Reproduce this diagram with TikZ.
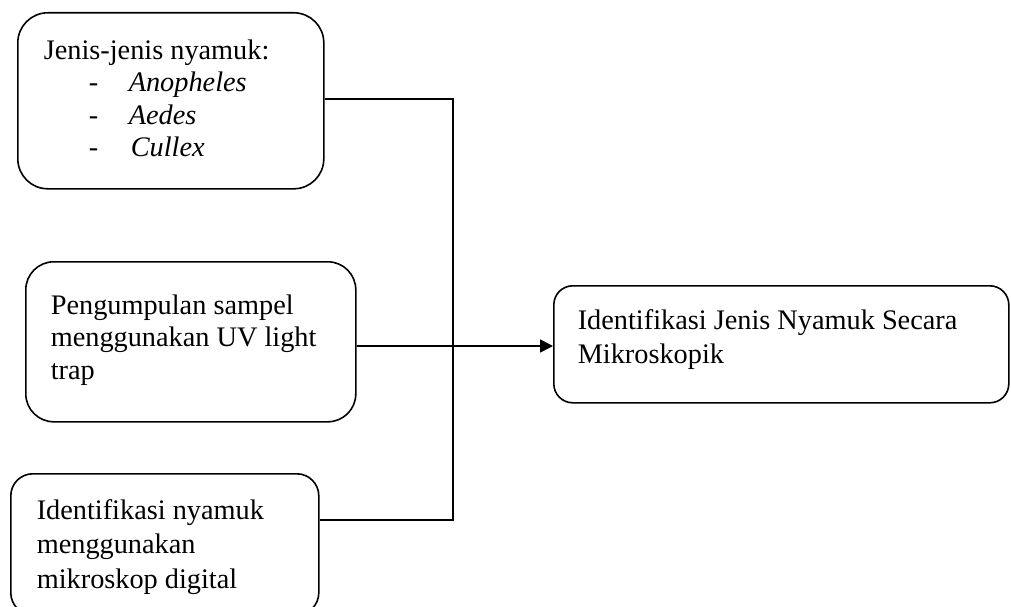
\documentclass[tikz,border=0pt]{standalone}
\usepackage{fontspec}
\setmainfont{Liberation Serif}
\usetikzlibrary{arrows.meta}
\tikzset{
  flowbox/.style={draw=black, line width=1.6pt, anchor=north west, align=left,
    font=\fontsize{28.3pt}{32.5pt}\selectfont},
  link/.style={draw=black, line width=1.6pt},
  arrowlink/.style={link, -{Triangle[length=13pt,width=13pt]}}
}
\begin{document}
\begin{tikzpicture}[x=1pt,y=-1pt]
\useasboundingbox (0,0) rectangle (1011,607);
\clip (0,0) rectangle (1011,607);
\fill[white] (0,0) rectangle (1011,607);

\node[flowbox, rounded corners=30pt, inner xsep=26pt, inner ysep=26.7pt] (b1) at (17,12)
  {\parbox[t][122.6pt][t]{254pt}{Jenis-jenis nyamuk:\\
   \hspace*{45pt}\makebox[40pt][l]{-}\textit{Anopheles}\\
   \hspace*{45pt}\makebox[40pt][l]{-}\textit{Aedes}\\
   \hspace*{45pt}\makebox[42pt][l]{-}\textit{Cullex}}};

\node[flowbox, rounded corners=28pt, inner xsep=25pt, inner ysep=32.7pt] (b2) at (25,261)
  {\parbox[t][94.6pt][t]{280pt}{Pengumpulan sampel\\menggunakan UV light\\trap}};

\node[flowbox, rounded corners=22pt, inner xsep=26pt, inner ysep=25.7pt] (b3) at (10,473)
  {\parbox[t][89.6pt][t]{256pt}{\fontsize{28.3pt}{34.5pt}\selectfont Identifikasi nyamuk\\menggunakan\\mikroskop digital}};

\node[flowbox, rounded corners=19pt, inner xsep=24pt, inner ysep=23.7pt] (b4) at (553,285)
  {\parbox[t][69.6pt][t]{407pt}{\fontsize{28.3pt}{34pt}\selectfont Identifikasi Jenis Nyamuk Secara\\Mikroskopik}};

\coordinate (jt) at (453,99);
\coordinate (jm) at (453,346);
\coordinate (jb) at (453,520);

\draw[link] (jt -| b1.east) -- (jt) -- (jb) -- (jb -| b3.east);
\draw[arrowlink] (jm -| b2.east) -- (jm -| b4.west);
\end{tikzpicture}
\end{document}
